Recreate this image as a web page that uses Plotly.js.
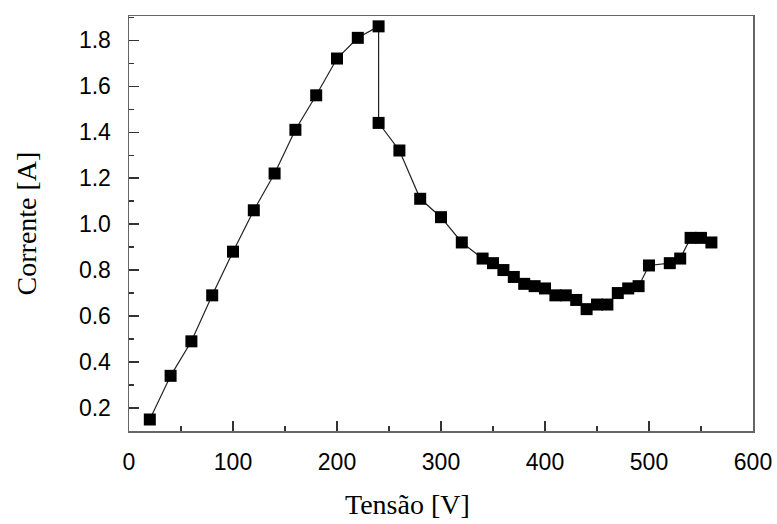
<!DOCTYPE html>
<html>
<head>
<meta charset="utf-8">
<script src="https://cdn.plot.ly/plotly-3.0.1.min.js"></script>
<style>html,body{margin:0;padding:0;background:#fff;}#chart{width:777px;height:524px;}</style>
</head>
<body>
<div id="chart"></div>
<script>
var tensao = [20, 40, 60, 80, 100, 120, 140, 160, 180, 200, 220, 240, 240, 260, 280, 300, 320, 340, 350, 360, 370, 380, 390, 400, 410, 420, 430, 440, 450, 460, 470, 480, 490, 500, 520, 530, 540, 550, 560];
var corrente = [0.15, 0.34, 0.49, 0.69, 0.88, 1.06, 1.22, 1.41, 1.56, 1.72, 1.81, 1.86, 1.44, 1.32, 1.11, 1.03, 0.92, 0.85, 0.83, 0.80, 0.77, 0.74, 0.73, 0.72, 0.69, 0.69, 0.67, 0.63, 0.65, 0.65, 0.70, 0.72, 0.73, 0.82, 0.83, 0.85, 0.94, 0.94, 0.92];
var xTicks = [0, 100, 200, 300, 400, 500, 600];
var yTicks = [0.2, 0.4, 0.6, 0.8, 1.0, 1.2, 1.4, 1.6, 1.8];
var xTitle = 'Tensão [V]';
var yTitle = 'Corrente [A]';

var trace = {
  x: tensao, y: corrente, type: 'scatter', mode: 'lines+markers',
  line: {color: '#222', width: 1.2},
  marker: {symbol: 'square', size: 12, color: '#000'},
  hoverinfo: 'x+y'
};
var serif = 'Liberation Serif, Times New Roman, serif';
var axisCommon = {
  showgrid: false, zeroline: false, showline: true, mirror: true,
  linecolor: '#666', linewidth: 1.5,
  ticks: 'inside', ticklen: 10, tickwidth: 1.2, tickcolor: '#333',
  tickfont: {family: 'Liberation Sans, Arial, sans-serif', size: 23, color: '#000'}
};
var layout = {
  width: 777, height: 524,
  margin: {l: 129, r: 24, t: 16, b: 93},
  paper_bgcolor: '#fff', plot_bgcolor: '#fff',
  showlegend: false,
  xaxis: Object.assign({}, axisCommon, {
    range: [0, 600], tickvals: xTicks, ticklabelstandoff: 10,
    minor: {tickvals: [50, 150, 250, 350, 450, 550], ticks: 'inside', ticklen: 5, tickcolor: '#333', tickwidth: 1.2},
    title: {text: ''}
  }),
  yaxis: Object.assign({}, axisCommon, {
    range: [0.1, 1.905], tickvals: yTicks, tickformat: '.1f', ticklabelstandoff: 12,
    minor: {tickvals: [0.3, 0.5, 0.7, 0.9, 1.1, 1.3, 1.5, 1.7, 1.9], ticks: 'inside', ticklen: 5, tickcolor: '#333', tickwidth: 1.2},
    title: {text: yTitle, font: {family: serif, size: 28, color: '#000'}, standoff: 34}
  }),
  annotations: [{
    text: xTitle, xref: 'paper', yref: 'paper', x: (407 - 129) / 624, y: -0.178,
    xanchor: 'center', yanchor: 'middle', showarrow: false,
    font: {family: serif, size: 28, color: '#000'}
  }]
};
Plotly.newPlot('chart', [trace], layout, {displayModeBar: false, staticPlot: true});
</script>
</body>
</html>
